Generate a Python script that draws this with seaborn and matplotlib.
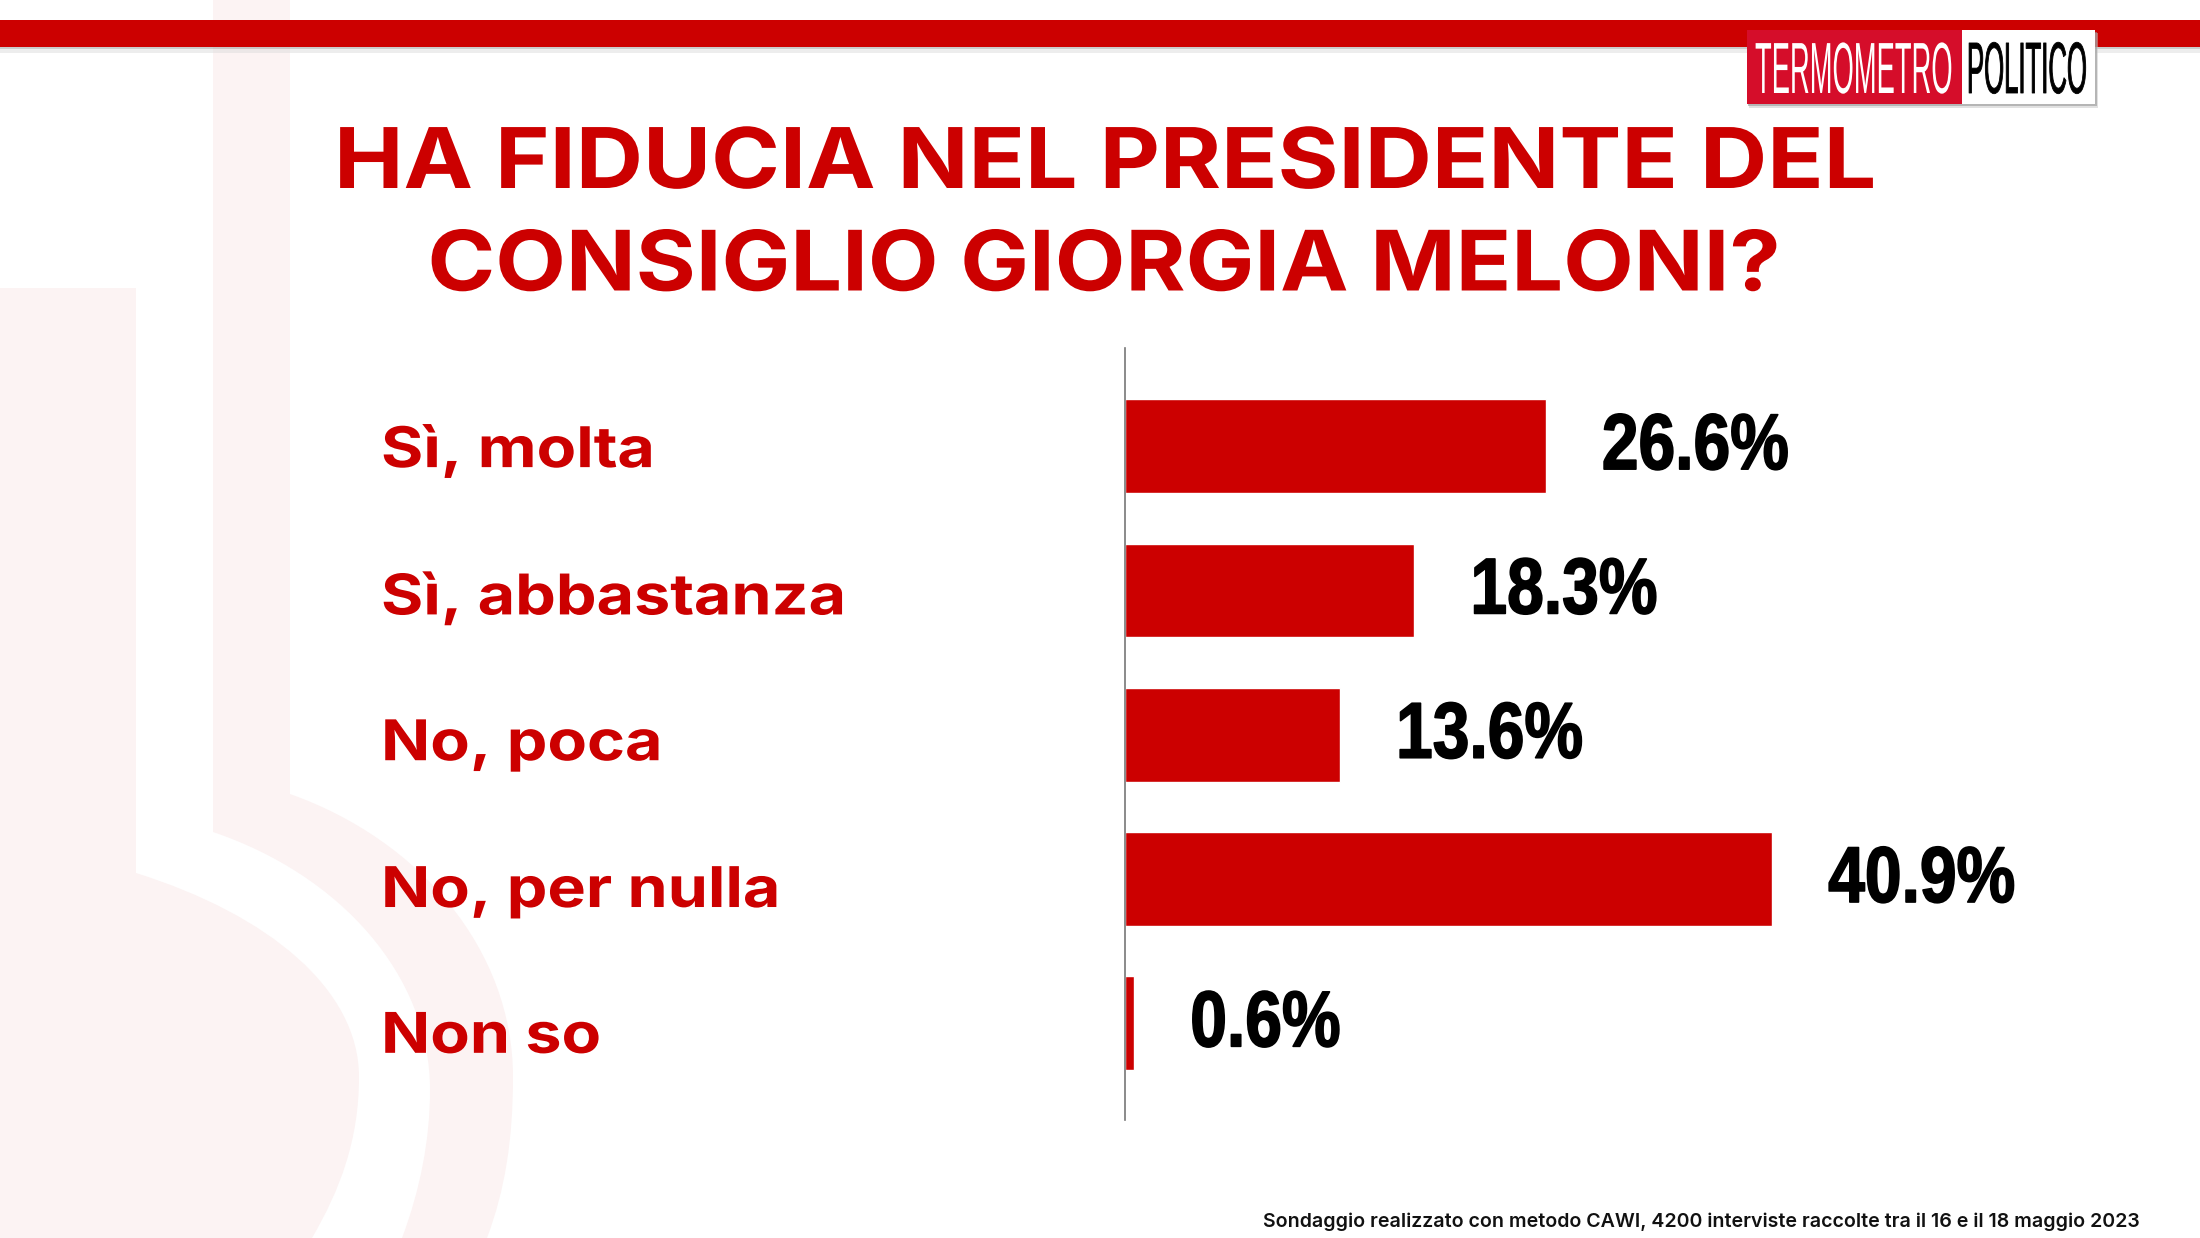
import matplotlib
matplotlib.use('Agg')
import matplotlib.pyplot as plt
import matplotlib.patheffects as pe
from matplotlib.patches import PathPatch, Rectangle
from matplotlib.path import Path
from matplotlib.transforms import Affine2D
import pandas as pd
import seaborn as sns

risposte = ['Sì, molta', 'Sì, abbastanza', 'No, poca', 'No, per nulla', 'Non so']
valori = [26.6, 18.3, 13.6, 40.9, 0.6]
titolo = ['HA FIDUCIA NEL PRESIDENTE DEL', 'CONSIGLIO GIORGIA MELONI?']
nota = 'Sondaggio realizzato con metodo CAWI, 4200 interviste raccolte tra il 16 e il 18 maggio 2023'

ROSSO = '#cc0000'
ROSA = '#fcf3f3'
W, H = 2200, 1238


class Stretch(pe.AbstractPathEffect):
    # i font condensati non ci sono: allunga il testo in verticale, lw per ispessirlo
    def __init__(self, sy, dy=0, lw=0):
        super().__init__()
        self.sy, self.dy, self.lw = sy, dy, lw

    def draw_path(self, renderer, gc, tpath, affine, rgbFace=None):
        t = Affine2D().scale(1, self.sy) + affine + Affine2D().translate(0, self.dy)
        gc.set_linewidth(self.lw)
        renderer.draw_path(gc, tpath, t, rgbFace)


sns.set_theme(style='white')
plt.rcParams['font.family'] = ['Inter', 'DejaVu Sans']

df = pd.DataFrame({'risposta': risposte, 'valore': valori})
fig = plt.figure(figsize=(W / 100, H / 100), dpi=100, facecolor='white')

# sfondo e intestazione, in pixel
bg = fig.add_axes([0, 0, 1, 1], zorder=0)
bg.set_xlim(0, W)
bg.set_ylim(H, 0)
bg.axis('off')

M, L, C, Z = Path.MOVETO, Path.LINETO, Path.CURVE4, Path.CLOSEPOLY
bulbo = [(0, 288), (136, 288), (136, 873),
         (270, 915), (359, 990), (359, 1077),
         (359, 1140), (340, 1190), (312, 1238),
         (0, 1238), (0, 288)]
bulbo_c = [M, L, L, C, C, C, C, C, C, L, Z]
anello = [(213, 0), (290, 0), (290, 794),
          (420, 840), (513, 950), (513, 1077),
          (513, 1140), (505, 1190), (487, 1238),
          (402, 1238),
          (420, 1190), (430, 1140), (430, 1090),
          (430, 975), (340, 875), (213, 832),
          (213, 0)]
anello_c = [M, L, L, C, C, C, C, C, C, L, C, C, C, C, C, C, Z]
bg.add_patch(PathPatch(Path(bulbo, bulbo_c), fc=ROSA, ec='none'))
bg.add_patch(PathPatch(Path(anello, anello_c), fc=ROSA, ec='none'))

bg.add_patch(Rectangle((0, 47), W, 2, fc='#999999', ec='none', alpha=0.5))
bg.add_patch(Rectangle((0, 49), W, 4, fc='#dddddd', ec='none', alpha=0.5))
bg.add_patch(Rectangle((0, 20), W, 27, fc=ROSSO, ec='none'))
bg.add_patch(Rectangle((1749, 33), 349, 75, fc='#c4c4c4', ec='none', alpha=0.5))
bg.add_patch(Rectangle((1748, 32), 349, 74, fc='#999999', ec='none', alpha=0.6))
bg.add_patch(Rectangle((1747, 30), 215, 74, fc='#d50d2a', ec='none'))
bg.add_patch(Rectangle((1962, 30), 133, 74, fc='white', ec='none'))
bg.text(1755, 93, 'TERMOMETRO', color='white', fontsize=19.7, va='baseline', ha='left',
        family='Liberation Sans', path_effects=[Stretch(2.65)])
bg.text(1967, 93, 'POLITICO', color='black', fontsize=18.5, va='baseline', ha='left',
        family='Liberation Sans', path_effects=[Stretch(2.83, lw=0.6)])

bg.text(1105, 188, titolo[0], color=ROSSO, fontsize=67, fontweight='bold', ha='center',
        va='baseline', path_effects=[Stretch(0.9)])
bg.text(1104, 290.5, titolo[1], color=ROSSO, fontsize=66, fontweight='bold', ha='center',
        va='baseline', path_effects=[Stretch(0.91)])
bg.text(2140, 1222, nota, color='#111111', fontsize=14.1, fontweight='semibold', ha='right', va='center')

# grafico: 15.83 px per punto percentuale
x0, x1, y0, y1 = 1124.5, 1900, 348, 1120
ax = fig.add_axes([x0 / W, 1 - y1 / H, (x1 - x0) / W, (y1 - y0) / H], zorder=1)
ax.patch.set_alpha(0)
sns.barplot(data=df, x='valore', y='risposta', color=ROSSO, saturation=1, width=0.65, ax=ax)
ax.set_xlim(0, (x1 - x0) / 15.83)
ax.set_ylim(4.67, -0.68)
ax.set_xlabel('')
ax.set_ylabel('')
ax.set_xticks([])
sns.despine(ax=ax, top=True, right=True, bottom=True)
ax.spines['left'].set_color('#777777')
ax.spines['left'].set_linewidth(1.2)

ax.tick_params(axis='y', length=0, pad=(x0 - 381) * 0.72)
# le scritte a sinistra hanno un passo un po' piu largo delle barre
for lab, dy in zip(ax.get_yticklabels(), [4, 1, -2, -4.5, -6]):
    lab.set_ha('left')
    lab.set_color(ROSSO)
    lab.set_fontweight('bold')
    lab.set_fontsize(46.5)
    lab.set_path_effects([Stretch(0.87, dy=dy)])

etichette = ax.bar_label(ax.containers[0], fmt='%.1f%%', padding=40.5, color='black',
                         fontsize=47.5, fontweight='bold', family='Liberation Sans')
for e in etichette:
    e.xyann = (e.xyann[0], 0)
    e.set_path_effects([Stretch(1.2, dy=-6, lw=1.2)])

fig.savefig('out.png', dpi=100)
